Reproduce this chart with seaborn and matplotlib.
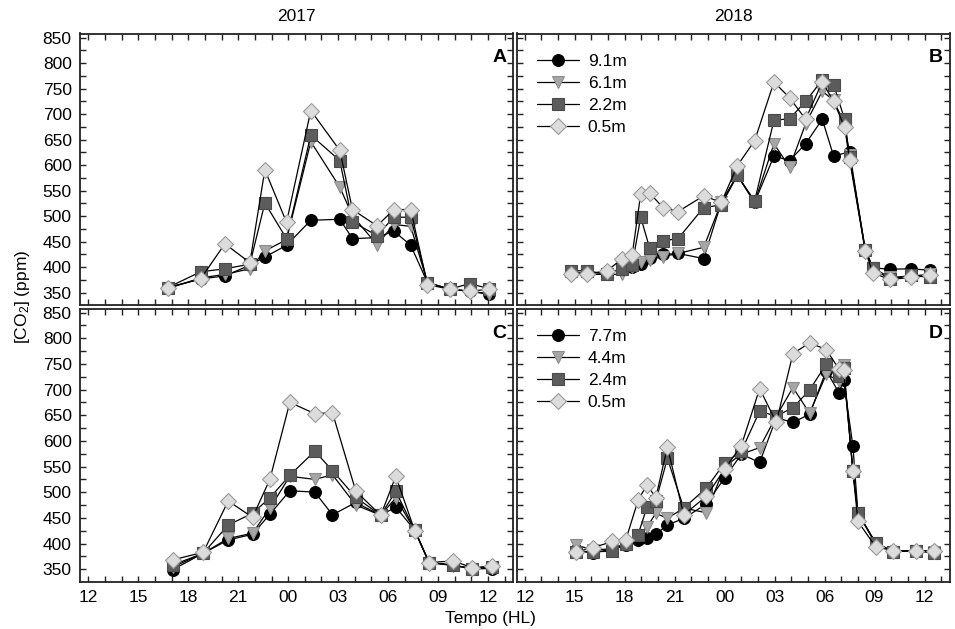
import numpy as np
import pandas as pd
import matplotlib
matplotlib.use("Agg")
import matplotlib.pyplot as plt
from matplotlib.ticker import MultipleLocator, FixedLocator
import seaborn as sns

sns.set_style("white")
plt.rcParams['font.family'] = ['Liberation Sans', 'DejaVu Sans']
plt.rcParams['mathtext.fontset'] = 'custom'
plt.rcParams['mathtext.rm'] = 'Liberation Sans'
plt.rcParams['mathtext.it'] = 'Liberation Sans:italic'
plt.rcParams['text.color'] = 'black'
plt.rcParams['axes.labelcolor'] = 'black'
plt.rcParams['xtick.color'] = 'black'
plt.rcParams['ytick.color'] = 'black'

# ---------------- data (hours since 12:00 of day 1) ----------------
hours_A = [4.76, 6.74, 8.2, 9.7, 10.6, 11.9, 13.36, 15.1, 15.86, 17.34, 18.34, 19.36, 20.36, 21.7, 22.9, 24.06]
A_s1 = [360, 377, 383, 404, 420, 443, 492, 494, 456, 458, 471, 443, 370, 357, 353, 348]
A_s2 = [358, 379, 386, 397, 432, 454, 646, 557, 501, 444, 484, 480, 370, 357, 353, 347]
A_s3 = [360, 391, 397, 406, 526, 456, 659, 609, 489, 462, 498, 498, 370, 357, 368, 358]
A_s4 = [360, 377, 446, 409, 591, 488, 707, 629, 513, 481, 513, 513, 366, 357, 353, 357]

hours_B = [2.76, 3.76, 4.94, 5.86, 6.44, 6.96, 7.5, 8.3, 9.2, 10.74, 11.8, 12.76, 13.8,
           14.96, 15.9, 16.86, 17.86, 18.54, 19.2, 19.5, 20.44, 20.9, 21.9, 23.2, 24.34]
B_s1 = [389, 389, 389, 397, 401, 406, 419, 425, 427, 417, 527, 580, 527, 618, 609, 642, 690, 618, np.nan, 626, 434, 399, 396, 397, 394]
B_s2 = [389, 386, 386, 386, 401, 410, 415, 421, 427, 439, 527, 580, 527, 642, 596, 681, 745, 727, 681, 619, 434, 399, 380, 383, 386]
B_s3 = [393, 393, 386, 397, 404, 498, 437, 452, 456, 517, 522, 580, 530, 688, 691, 725, 767, 758, 690, 616, 434, 399, 376, 384, 380]
B_s4 = [386, 387, 393, 417, 423, 544, 545, 517, 509, 540, 527, 599, 648, 763, 732, 690, 763, 725, 675, 611, 432, 389, 376, 380, 384]

hours_C = [5.06, 6.9, 8.4, 9.86, 10.9, 12.1, 13.6, 14.66, 16.06, 17.56, 18.46, 19.6, 20.46, 21.9, 23.06, 24.24]
C_s1 = [349, 381, 407, 418, 457, 503, 500, 456, 480, 455, 471, 426, 363, 358, 351, 351]
C_s2 = [354, 381, 410, 420, 469, 531, 525, 534, 475, 455, 489, 426, 363, 357, 351, 353]
C_s3 = [358, 381, 436, 459, 489, 533, 580, 542, 490, 455, 502, 426, 363, 358, 351, 355]
C_s4 = [368, 383, 483, 451, 525, 675, 653, 655, 502, 455, 531, 425, 363, 366, 353, 356]

hours_D = [3.1, 4.1, 5.26, 6.06, 6.8, 7.34, 7.86, 8.56, 9.54, 10.9, 12.0, 13.0, 14.1,
           15.1, 16.1, 17.1, 18.1, 18.86, 19.14, 19.7, 20.0, 21.06, 22.1, 23.46, 24.54]
D_s1 = [387, 381, 390, 397, 407, 410, 418, 436, 449, 477, 528, 574, 558, 645, 636, 652, 737, 694, 719, 590, 460, 400, 386, 386, 386]
D_s2 = [397, 387, 390, 400, 417, 432, 459, 449, 469, 460, 550, 574, 587, 648, 704, 654, 730, 717, 748, 541, 459, 400, 384, 386, 384]
D_s3 = [384, 384, 385, 400, 417, 472, 482, 566, 469, 508, 557, 580, 658, 648, 665, 699, 750, 727, 743, 541, 460, 402, 384, 386, 381]
D_s4 = [384, 392, 404, 407, 484, 515, 489, 588, 456, 492, 545, 591, 702, 636, 770, 791, 778, 740, 739, 541, 443, 394, 386, 386, 386]

labels_2017_2018_B = ["9.1m", "6.1m", "2.2m", "0.5m"]
labels_D = ["7.7m", "4.4m", "2.4m", "0.5m"]
tick_hours = [0, 3, 6, 9, 12, 15, 18, 21, 24]
tick_labels = ["12", "15", "18", "21", "00", "03", "06", "09", "12"]
y_ticks = [350, 400, 450, 500, 550, 600, 650, 700, 750, 800, 850]
col_titles = ["2017", "2018"]
panel_letters = ["A", "B", "C", "D"]

styles = [
    dict(marker='o', markerfacecolor='black', markeredgecolor='black', markersize=8.5),
    dict(marker='v', markerfacecolor='#a6a6a6', markeredgecolor='#8c8c8c', markersize=9),
    dict(marker='s', markerfacecolor='#5c5c5c', markeredgecolor='#4a4a4a', markersize=8),
    dict(marker='D', markerfacecolor='#dcdcdc', markeredgecolor='#9a9a9a', markersize=8),
]

panels = [
    (hours_A, [A_s1, A_s2, A_s3, A_s4], labels_2017_2018_B, False),
    (hours_B, [B_s1, B_s2, B_s3, B_s4], labels_2017_2018_B, True),
    (hours_C, [C_s1, C_s2, C_s3, C_s4], labels_D, False),
    (hours_D, [D_s1, D_s2, D_s3, D_s4], labels_D, True),
]

W, H = 955, 629
fig = plt.figure(figsize=(W / 100, H / 100), dpi=100)
boxes = [
    (80, 33.5, 513, 305),
    (516.5, 33.5, 949.5, 305),
    (80, 308.5, 513, 581.5),
    (516.5, 308.5, 949.5, 581.5),
]

for i, (hrs, series, labs, show_leg) in enumerate(panels):
    x0, y0, x1, y1 = boxes[i]
    ax = fig.add_axes([x0 / W, 1 - y1 / H, (x1 - x0) / W, (y1 - y0) / H])
    for s, lab, st in zip(series, labs, styles):
        df = pd.DataFrame({"hour": hrs, "ppm": s}).dropna()
        sns.lineplot(data=df, x="hour", y="ppm", ax=ax, color='black', linewidth=0.9,
                     estimator=None, sort=False, label=lab, legend=False,
                     markeredgewidth=0.8, **st)
    ax.set_xlim(-0.5, 25.5)
    ax.set_ylim(326, 858)
    ax.xaxis.set_major_locator(FixedLocator(tick_hours))
    ax.xaxis.set_minor_locator(MultipleLocator(1))
    ax.yaxis.set_major_locator(FixedLocator(y_ticks))
    ax.yaxis.set_minor_locator(MultipleLocator(25))
    ax.tick_params(which='both', direction='in', top=True, right=True, bottom=True, left=True,
                   length=4.5, width=1.0, color='#222222', labelcolor='black',
                   labelsize=12.5, pad=6)
    if i >= 2:
        ax.set_xticklabels(tick_labels)
    else:
        ax.set_xticklabels([])
    if i % 2 == 0:
        ax.set_yticklabels([str(v) for v in y_ticks])
    else:
        ax.set_yticklabels([])
    ax.set_xlabel("")
    ax.set_ylabel("")
    for sp in ax.spines.values():
        sp.set_visible(True)
        sp.set_color('#222222')
        sp.set_linewidth(1.3)
    ax.text(0.985, 0.91, panel_letters[i], transform=ax.transAxes, ha='right', va='center',
            fontsize=14, fontweight='bold', color='black')
    if i < 2:
        ax.set_title(col_titles[i], fontsize=12.5, pad=9, color='black')
    if show_leg:
        ax.legend(loc='upper left', frameon=False, fontsize=12.5, handlelength=2.4,
                  handletextpad=0.5, labelspacing=0.4, borderaxespad=0.3,
                  bbox_to_anchor=(0.02, 0.97), labelcolor='black')

fig.text(490 / W, 1 - 619 / H, "Tempo (HL)", ha='center', va='center', fontsize=12.5, color='black')
fig.text(23 / W, 1 - 297 / H, "[CO$_2$] (ppm)", ha='center', va='center', rotation=90,
         fontsize=12.5, color='black')

fig.savefig("out.png", dpi=100, facecolor='white')
